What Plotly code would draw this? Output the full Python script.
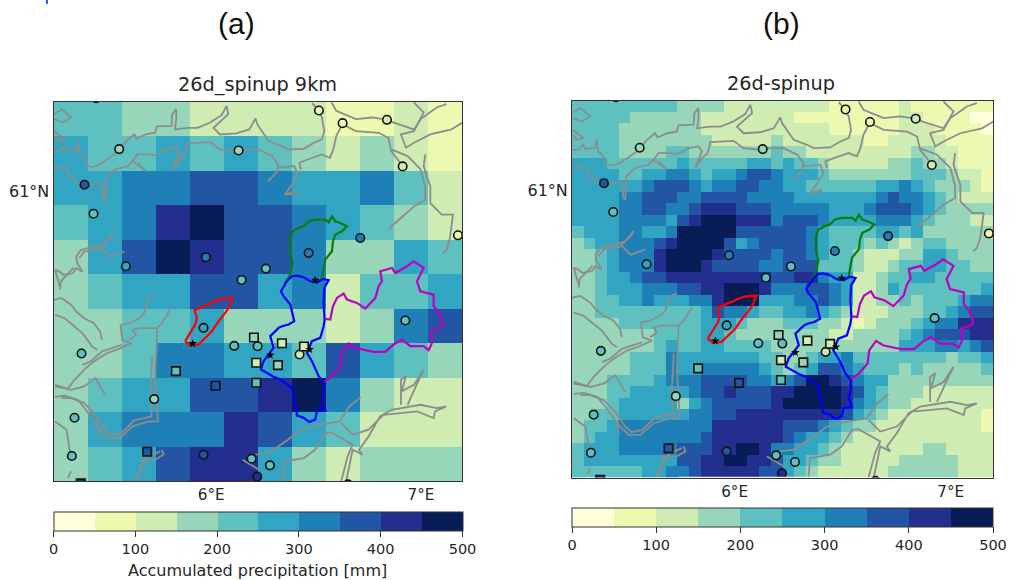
import numpy as np
import plotly.graph_objects as go

# Colour classes (YlGnBu, 10 classes of 50 mm)
CLASS_COLORS = ["#ffffd9", "#edf8b1", "#cfecb3", "#97d6b9", "#5fc0c0",
                "#31a5c2", "#1f80b8", "#2355a5", "#232f8f", "#081d58"]
CBAR_TICKS = [0, 100, 200, 300, 400, 500]
PRECIP_BIN = 50

# Precipitation class per grid cell, north to south
GRID_9KM = [
    "443322221121",
    "544545432321",
    "556677655642",
    "456897765432",
    "357987763354",
    "345577562445",
    "334453332367",
    "334665547543",
    "345577896322",
    "356668754222",
    "345788532333",
]
GRID_3KM = [
    "444444444333322222" "222211111121111111",
    "444443333332222222" "211111111122111100",
    "444433333332222222" "222211111122211110",
    "444433333333222223" "222222211222221111",
    "444433334433333334" "332222222223322111",
    "555444444544444554" "544322222334332111",
    "555544556654556776" "555433333334443221",
    "555555677765667766" "554444445565433321",
    "555566777667777666" "655555556766543222",
    "555566776678887776" "666655567776543333",
    "555566665789998886" "777655556665433322",
    "455566556999997777" "776544445545333333",
    "345566678999975677" "776544434323443333",
    "334566689999877776" "776544322233554333",
    "334566689998777766" "777444322344554433",
    "334556778888888887" "788655223445544444",
    "334555666778899986" "667765223544444445",
    "334455655566899955" "566765223343444566",
    "334444444445766544" "556543222333445677",
    "333344444445554333" "444332123334566888",
    "333333344445543333" "333322333345677788",
    "333333345445544443" "333333333355566567",
    "333334446555555544" "334556444444443445",
    "333334446556666654" "345776544434333334",
    "333444456667777665" "679987655333333333",
    "333445555567787778" "899998754333222222",
    "333455555356777778" "999998654332222222",
    "334455555566778888" "888887543222222221",
    "344566666666888888" "777654332222222221",
    "345566666667888888" "765543222222222222",
    "455566666777889986" "655432222222332222",
    "455555555778899887" "554332222233333222",
    "444444556678888877" "543222222333333222",
]

# Digitised map features, in map units (easting, southing)
MAP_X_RANGE = [40, 1265]
MAP_Y_RANGE = [1175, 35]
LON_TICKS = [513, 1142]
LON_LABELS = ["6°E", "7°E"]
LAT_TICKS = [306]
LAT_LABELS = ["61°N"]

COAST = [
    [(42,184),(59,184),(72,169),(79,181),(108,179),(111,154),(117,189),(132,204),(140,229),(156,232),(180,224),(200,209),(229,189),(258,154),(282,134),(289,147),(316,134),(345,129),(350,110),(394,108),(396,73),(408,58),(408,88),(404,119),(442,114),(472,114),(510,98),(544,76),(559,48),(564,73),(554,83),(520,114),(539,134),(588,131),(627,119),(646,86),(651,103),(661,117),(685,154),(724,169),(743,179),(791,177),(821,159),(845,149),(852,124),(845,83),(835,63),(816,40)],
    [(42,234),(79,234),(93,264),(113,280),(147,283),(185,285),(190,330),(195,335),(198,264),(224,239),(263,229),(277,214),(292,194),(326,194),(345,197),(379,179),(408,174),(418,189),(404,224),(399,239),(418,209),(435,194),(442,161),(510,157),(539,179),(588,184),(617,179),(656,179),(695,199),(714,224),(709,249),(683,274)],
    [(714,234),(762,229),(772,254),(748,295),(733,315),(762,305),(770,310),(738,315)],
    [(277,214),(316,244),(292,219)],
    [(782,239),(777,219),(816,204),(845,194),(869,204),(879,179),(888,139),(906,103),(947,124),(1015,129),(1044,144),(1053,184),(1087,229)],
    [(874,38),(888,63),(947,88),(995,83),(1029,88),(1073,103),(1121,119),(1141,88),(1189,53),(1218,43)],
    [(1121,38),(1150,68),(1121,124),(1082,134),(1097,174),(1121,159),(1170,134),(1233,119),(1267,98)],
    [(1053,179),(1102,199),(1141,239),(1155,295),(1155,330),(1121,350),(1082,385),(1053,410),(1049,420)],
    [(1155,194),(1150,229),(1170,290),(1170,340),(1204,375),(1238,375),(1228,450),(1218,481),(1207,491)],
    [(42,73),(64,58),(93,83),(69,98),(42,88)],
    [(42,124),(74,149),(54,154),(42,139)],
    [(219,430),(195,461),(161,471),(122,481),(108,501),(111,521),(127,546),(108,536),(98,551),(69,556),(59,546),(45,541),(59,591)],
    [(181,471),(210,501),(253,486)],
    [(219,435),(181,476),(132,486),(117,506)],
    [(40,631),(64,626),(93,646),(108,666),(132,686),(161,701),(180,726),(185,751)],
    [(45,676),(74,686),(103,711),(127,731),(156,771),(171,781)],
    [(60,600),(62,575),(100,535)],
    [(345,619),(326,626),(311,671),(297,686),(268,701),(241,706),(246,751),(273,761),(229,781),(200,791),(161,816),(137,836),(103,871),(83,898),(45,886)],
    [(389,661),(365,701),(350,716),(297,716),(277,721),(287,736),(268,751)],
    [(127,826),(151,816),(185,786),(244,766)],
    [(45,891),(93,901),(132,891),(166,866),(195,916)],
    [(45,922),(74,919),(113,931),(137,961),(161,996),(180,1021),(205,1046),(239,1046),(277,1011),(326,996),(353,996),(350,921),(345,851),(350,751),(350,716)],
    [(336,801),(331,901),(334,981),(282,993),(244,1031),(214,1038),(195,1021),(166,976),(132,941),(93,926),(64,926)],
    [(171,1001),(176,1046)],
    [(45,996),(79,1021),(88,1081),(98,1101)],
    [(93,1146),(83,1166)],
    [(365,1081),(370,1096),(345,1111),(316,1111),(297,1151),(285,1169)],
    [(360,1086),(326,1101),(307,1116),(292,1171)],
    [(607,1111),(632,1126),(656,1141)],
    [(646,1096),(685,1091),(743,1051),(782,1021),(840,1006),(898,996),(927,951),(961,923)],
    [(728,1175),(733,1116),(791,1106),(825,1081),(855,1031),(874,1029),(937,1066),(922,1101),(903,1175)],
    [(918,1175),(937,1081),(966,1096),(956,1081),(985,1041),(1019,981),(1053,961),(1082,956),(1141,946),(1189,956),(1218,951),(1184,966),(1180,986),(1131,966),(1073,971),(1029,976),(985,1021),(956,1031),(937,1036),(903,1001)],
    [(1082,946),(1082,871),(1097,859),(1085,905),(1121,886),(1150,841),(1131,881),(1102,946)],
]
BASIN_GREEN = [(733,582),(750,555),(757,520),(750,490),(750,445),(757,425),(775,415),(790,410),(805,395),(825,390),(855,390),(865,398),(875,380),(885,395),(900,400),(920,410),(905,425),(885,435),(878,455),(875,485),(855,510),(850,535),(845,565)]
BASIN_BLUE = [(755,560),(770,558),(790,563),(810,575),(830,578),(848,568),(865,572),(852,595),(850,640),(853,690),(850,710),(840,745),(815,755),(800,790),(815,815),(825,835),(835,860),(852,880),(850,915),(845,935),(855,962),(830,965),(825,990),(808,998),(790,985),(770,978),(768,955),(760,925),(755,895),(735,880),(720,870),(700,862),(680,850),(662,840),(670,815),(690,790),(700,775),(690,740),(715,715),(725,710),(745,705),(762,695),(755,660),(750,645),(730,620),(722,605),(740,575),(755,560)]
BASIN_RED = [(435,755),(450,730),(465,705),(470,685),(463,662),(490,650),(515,638),(540,628),(577,625),(565,655),(555,670),(535,695),(515,725),(495,745),(475,765),(450,768),(435,755)]
BASIN_MAGENTA = [(852,878),(875,860),(900,830),(905,790),(925,762),(945,775),(975,782),(1000,787),(1035,787),(1060,765),(1085,750),(1110,770),(1150,770),(1165,782),(1175,760),(1172,725),(1200,715),(1208,705),(1195,670),(1180,650),(1180,615),(1140,605),(1130,575),(1150,535),(1120,515),(1100,530),(1065,550),(1055,535),(1020,545),(1025,575),(1015,590),(1005,625),(975,657),(950,640),(920,630),(910,612),(890,625),(878,650),(870,690),(855,688)]

# Gauges: easting, southing, observed mm
GAUGE_CIRCLE = [
    (836,62,75),(907,100,75),(1040,90,125),(1087,230,100),(237,178,150),(595,182,150),
    (133,285,375),(160,372,225),(1253,437,75),(960,445,325),(805,490,325),(497,503,325),
    (257,530,275),(677,537,225),(604,571,225),(490,715,275),(582,769,200),(652,770,225),
    (778,795,125),(124,792,225),(342,929,175),(103,985,225),(95,1100,225),(490,1096,375),
    (634,1108,225),(689,1128,225),(651,1162,425),(1095,693,225),(168,25,375),(923,1185,425),
]
GAUGE_SQUARE = [
    (641,744,175),(725,761,125),(791,771,100),(648,820,125),(713,827,175),(648,880,225),
    (407,845,225),(526,889,375),(321,1087,375),(122,1182,425),
]
STARS = [(457,762),(690,797),(808,780),(825,572)]

W, H = 1010, 580
PANELS = [
    dict(title="26d_spinup 9km", tag="(a)", grid=GRID_9KM, px=(53.5, 462), py=(101.5, 481),
         title_x=257, title_y=84, tag_x=236, cb_y=511.5),
    dict(title="26d-spinup", tag="(b)", grid=GRID_3KM, px=(572, 993), py=(100.5, 477.5),
         title_x=781, title_y=83, tag_x=781, cb_y=507.5),
]
CBAR_LABEL = "Accumulated precipitation [mm]"


def fx(v):
    return v / W


def fy(v):
    return 1 - v / H


scale = [[s, c] for i, c in enumerate(CLASS_COLORS) for s in (i / 10, (i + 1) / 10)]
FONT = "DejaVu Sans"
TXT = "#262626"


def xs(pts):
    return [p[0] for p in pts]


def ys(pts):
    return [p[1] for p in pts]


coast_x, coast_y = [], []
for seg in COAST:
    coast_x += xs(seg) + [None]
    coast_y += ys(seg) + [None]

fig = go.Figure()
layout = dict(
    width=W, height=H, margin=dict(l=0, r=0, t=0, b=0),
    paper_bgcolor="white", plot_bgcolor="white", showlegend=False,
    font=dict(family=FONT, size=14.5, color=TXT),
    annotations=[], shapes=[],
)

for i, p in enumerate(PANELS):
    n = "" if i == 0 else str(i + 1)
    xa, ya = f"x{n}", f"y{n}"
    ca = f"coloraxis{n}"
    rows = [[int(ch) * PRECIP_BIN + PRECIP_BIN / 2 for ch in r] for r in p["grid"]]
    x_edges = np.linspace(*MAP_X_RANGE, len(rows[0]) + 1)
    y_edges = np.linspace(MAP_Y_RANGE[1], MAP_Y_RANGE[0], len(rows) + 1)
    fig.add_trace(go.Heatmap(x=x_edges, y=y_edges, z=rows, coloraxis=ca, xaxis=xa, yaxis=ya,
                             hoverinfo="skip"))
    fig.add_trace(go.Scatter(x=coast_x, y=coast_y, mode="lines", xaxis=xa, yaxis=ya,
                             line=dict(color="#8c8c8c", width=1.8)))
    for pts, col in ((BASIN_GREEN, "#0a7d0a"), (BASIN_BLUE, "#0000ff"),
                     (BASIN_RED, "#ff0000"), (BASIN_MAGENTA, "#bf00bf")):
        fig.add_trace(go.Scatter(x=xs(pts), y=ys(pts), mode="lines", xaxis=xa, yaxis=ya,
                                 line=dict(color=col, width=2.2)))
    for pts, sym in ((GAUGE_CIRCLE, "circle"), (GAUGE_SQUARE, "square")):
        fig.add_trace(go.Scatter(x=xs(pts), y=ys(pts), mode="markers", xaxis=xa, yaxis=ya,
                                 marker=dict(symbol=sym, size=8.5,
                                             color=[q[2] for q in pts], coloraxis=ca,
                                             line=dict(color="#111111", width=1.6))))
    fig.add_trace(go.Scatter(x=xs(STARS), y=ys(STARS), mode="markers", xaxis=xa, yaxis=ya,
                             marker=dict(symbol="star", size=6.5, color="black")))

    layout[f"xaxis{n}"] = dict(
        domain=[fx(p["px"][0]), fx(p["px"][1])], range=MAP_X_RANGE, anchor=ya,
        showgrid=False, zeroline=False, showline=True, mirror=True, linecolor="#333333",
        linewidth=1, ticks="", tickmode="array", tickvals=LON_TICKS, ticktext=LON_LABELS,
        tickfont=dict(family=FONT, size=15.2, color=TXT),
    )
    layout[f"yaxis{n}"] = dict(
        domain=[fy(p["py"][1]), fy(p["py"][0])], range=MAP_Y_RANGE, anchor=xa,
        showgrid=False, zeroline=False, showline=True, mirror=True, linecolor="#333333",
        linewidth=1, ticks="", tickmode="array", tickvals=LAT_TICKS, ticktext=LAT_LABELS,
        tickfont=dict(family=FONT, size=16, color=TXT),
    )
    layout[ca] = dict(
        colorscale=scale, cmin=0, cmax=500,
        colorbar=dict(
            orientation="h", lenmode="pixels", len=p["px"][1] - p["px"][0], thickness=18.5,
            x=fx(p["px"][0]), xanchor="left", y=fy(p["cb_y"]), yanchor="top",
            xpad=0, ypad=0, outlinecolor="#333333", outlinewidth=1,
            tickmode="array", tickvals=CBAR_TICKS, ticks="outside", ticklen=5.5,
            tickcolor="#333333", tickfont=dict(family=FONT, size=14.5, color=TXT),
            ticklabeloverflow="allow",
        ),
    )
    layout["annotations"].append(dict(
        xref="paper", yref="paper", x=fx(p["title_x"]), y=fy(p["title_y"]),
        text=p["title"], showarrow=False, xanchor="center", yanchor="middle",
        font=dict(family=FONT, size=19.3, color=TXT)))
    layout["annotations"].append(dict(
        xref="paper", yref="paper", x=fx(p["tag_x"]), y=fy(24),
        text=p["tag"], showarrow=False, xanchor="center", yanchor="middle",
        font=dict(family="Liberation Sans", size=30, color="#111111")))

layout["annotations"].append(dict(
    xref="paper", yref="paper", x=fx(257.5), y=fy(570), text=CBAR_LABEL, showarrow=False,
    xanchor="center", yanchor="middle", font=dict(family=FONT, size=16, color=TXT)))
layout["shapes"].append(dict(type="rect", xref="paper", yref="paper", x0=fx(46), x1=fx(48),
                             y0=fy(4), y1=1, line=dict(width=0), fillcolor="#2a62ff"))
layout["shapes"].append(dict(type="rect", xref="paper", yref="paper", x0=fx(679), x1=fx(836),
                             y0=fy(478), y1=fy(476.8), line=dict(width=0), fillcolor="#f4f4ee"))

fig.update_layout(**layout)
fig.write_html("out.html", config={"displayModeBar": False},
               post_script="document.body.style.margin='0';document.documentElement.style.overflow='hidden';")
